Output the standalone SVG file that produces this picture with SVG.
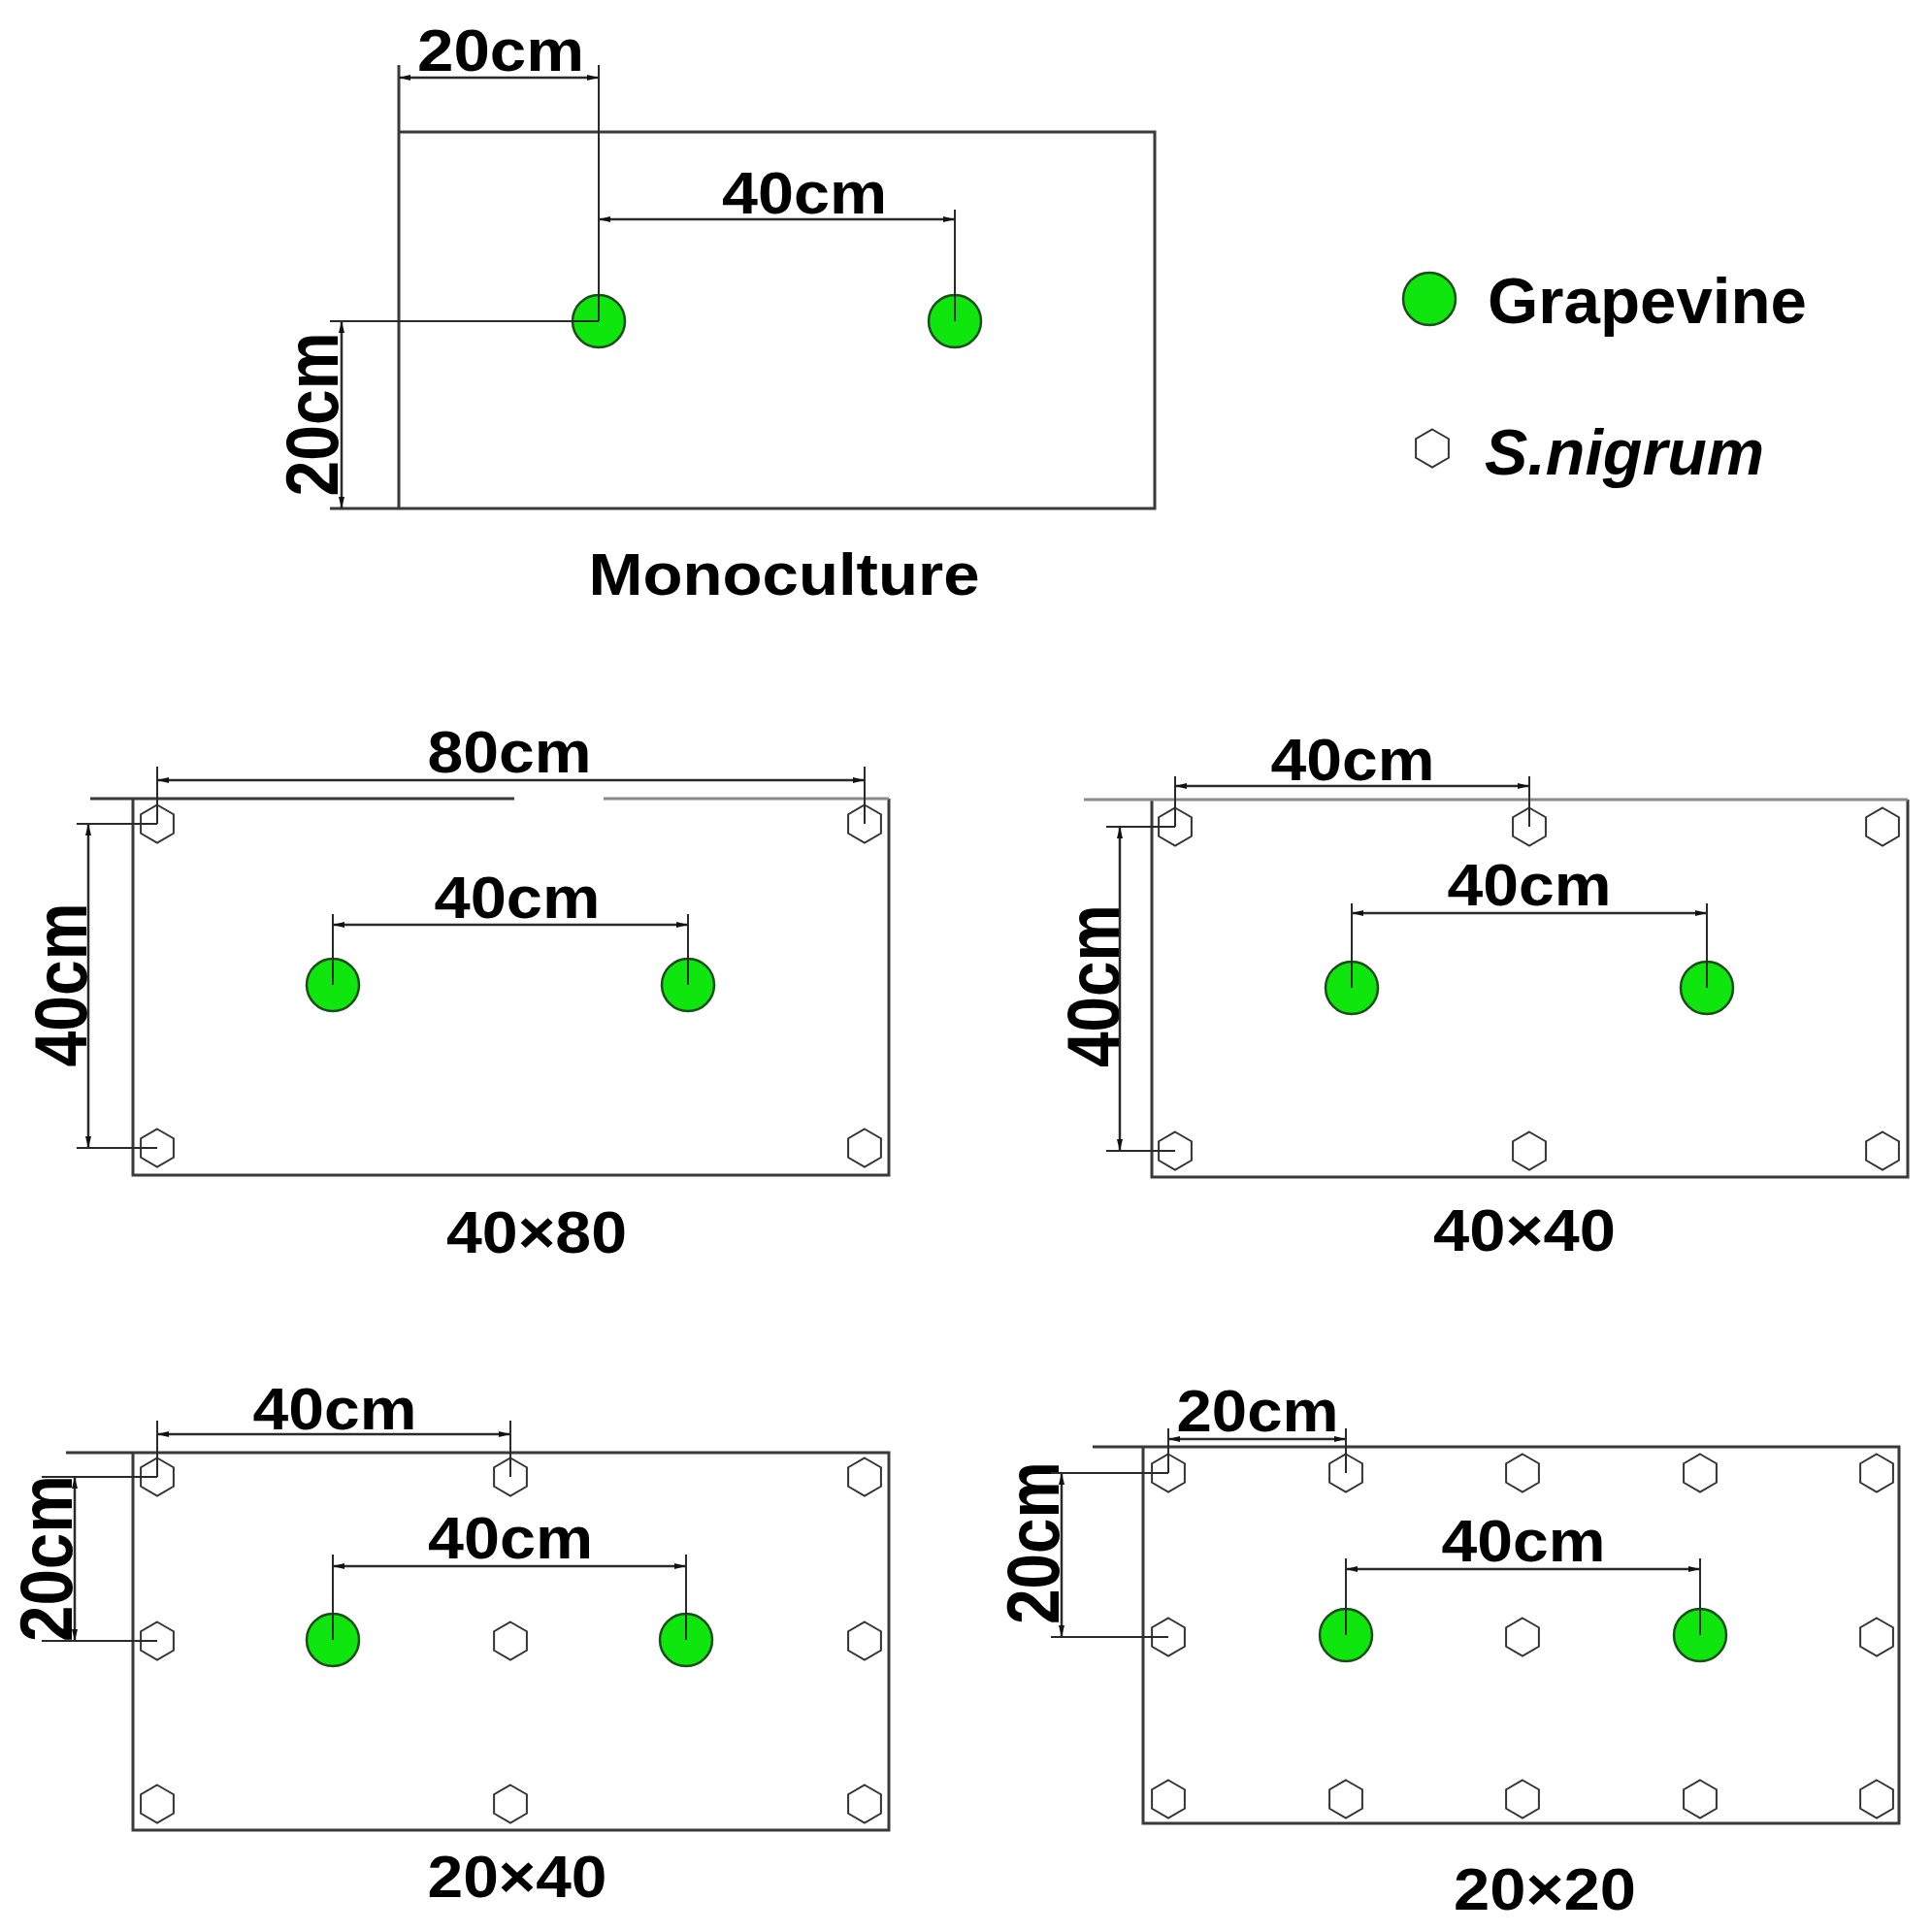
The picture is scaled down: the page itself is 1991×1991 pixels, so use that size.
<svg xmlns="http://www.w3.org/2000/svg" xmlns:xlink="http://www.w3.org/1999/xlink" width="1991" height="1991" viewBox="0 0 1991 1991">
<style>
  .frame { fill: none; stroke: #3a3a3a; stroke-width: 3; }
  .light { fill: none; stroke: #8a8a8a; stroke-width: 3; }
  .ext { stroke: #2a2a2a; stroke-width: 2; fill: none; }
  .dim { stroke: #2a2a2a; stroke-width: 2.5; fill: none; marker-start: url(#arr); marker-end: url(#arr); }
  .lbl { font-family: "Liberation Sans", Arial, sans-serif; font-weight: bold; font-size: 62px; fill: #000; text-anchor: middle; }
  .vlbl { font-family: "Liberation Sans", Arial, sans-serif; font-weight: bold; font-size: 76px; fill: #000; text-anchor: middle; }
  .leg { font-family: "Liberation Sans", Arial, sans-serif; font-weight: bold; font-size: 66px; fill: #000; }
</style>
<defs>
  <marker id="arr" viewBox="0 0 12 6" refX="12" refY="3" markerWidth="12" markerHeight="6" markerUnits="userSpaceOnUse" orient="auto-start-reverse">
    <path d="M0,0 L12,3 L0,6 z" fill="#111"/>
  </marker>
  <circle id="grape" cx="0" cy="0" r="27" fill="#0ee60e" stroke="#1d4d1d" stroke-width="2.5"/>
  <polygon id="hex" points="0,-19.5 16.9,-9.75 16.9,9.75 0,19.5 -16.9,9.75 -16.9,-9.75" fill="#fff" stroke="#333" stroke-width="2"/>
</defs>
<rect width="1991" height="1991" fill="#fff"/>

<!-- ===== Monoculture ===== -->
<g id="panel-mono">
  <path class="frame" d="M411,136 H1190 V524 H340 M411,67 V524"/>
  <g id="mono-g1"><use xlink:href="#grape" x="617" y="331"/></g>
  <g id="mono-g2"><use xlink:href="#grape" x="984" y="331"/></g>
  <text class="lbl" x="516" y="73" textLength="172" lengthAdjust="spacingAndGlyphs">20cm</text>
  <text class="lbl" x="829" y="220" textLength="170" lengthAdjust="spacingAndGlyphs">40cm</text>
  <text class="vlbl" transform="translate(321,427) rotate(-90)" y="27" textLength="169" lengthAdjust="spacingAndGlyphs">20cm</text>
  <text class="lbl" x="808" y="613" textLength="403" lengthAdjust="spacingAndGlyphs">Monoculture</text>
</g>

<!-- ===== Legend ===== -->
<g id="legend">
  <g id="leg-grape"><use xlink:href="#grape" x="1473" y="308"/></g>
  <text class="leg" x="1533" y="333" textLength="329" lengthAdjust="spacingAndGlyphs">Grapevine</text>
  <g id="leg-hex"><use xlink:href="#hex" x="1476" y="462"/></g>
  <text class="leg" x="1530" y="489" font-style="italic" textLength="288" lengthAdjust="spacingAndGlyphs">S.nigrum</text>
</g>

<!-- ===== 40x80 ===== -->
<g id="panel-40x80">
  <path class="frame" d="M916,823 V1211 H137 V823"/>
  <path class="frame" d="M93,823 H530"/>
  <path class="light" d="M622,823 H916"/>
  <g id="p1-h1"><use xlink:href="#hex" x="162" y="849"/></g>
  <g id="p1-h2"><use xlink:href="#hex" x="891" y="849"/></g>
  <g id="p1-h3"><use xlink:href="#hex" x="162" y="1183"/></g>
  <g id="p1-h4"><use xlink:href="#hex" x="891" y="1183"/></g>
  <g id="p1-g1"><use xlink:href="#grape" x="343" y="1015"/></g>
  <g id="p1-g2"><use xlink:href="#grape" x="709" y="1015"/></g>
  <text class="lbl" x="525" y="796" textLength="169" lengthAdjust="spacingAndGlyphs">80cm</text>
  <text class="lbl" x="533" y="946" textLength="171" lengthAdjust="spacingAndGlyphs">40cm</text>
  <text class="vlbl" transform="translate(62,1015) rotate(-90)" y="27" textLength="169" lengthAdjust="spacingAndGlyphs">40cm</text>
  <text class="lbl" x="553" y="1291" textLength="186" lengthAdjust="spacingAndGlyphs">40×80</text>
</g>

<!-- ===== 40x40 ===== -->
<g id="panel-40x40">
  <path class="frame" d="M1966,824 V1213 H1187 V824"/>
  <path class="light" d="M1117,824 H1966"/>
  <g id="p2-h1"><use xlink:href="#hex" x="1211" y="852"/></g>
  <g id="p2-h2"><use xlink:href="#hex" x="1576" y="852"/></g>
  <g id="p2-h3"><use xlink:href="#hex" x="1940" y="852"/></g>
  <g id="p2-h4"><use xlink:href="#hex" x="1211" y="1186"/></g>
  <g id="p2-h5"><use xlink:href="#hex" x="1576" y="1186"/></g>
  <g id="p2-h6"><use xlink:href="#hex" x="1940" y="1186"/></g>
  <g id="p2-g1"><use xlink:href="#grape" x="1393" y="1018"/></g>
  <g id="p2-g2"><use xlink:href="#grape" x="1759" y="1018"/></g>
  <text class="lbl" x="1394" y="804" textLength="169" lengthAdjust="spacingAndGlyphs">40cm</text>
  <text class="lbl" x="1576" y="933" textLength="169" lengthAdjust="spacingAndGlyphs">40cm</text>
  <text class="vlbl" transform="translate(1126,1016) rotate(-90)" y="27" textLength="168" lengthAdjust="spacingAndGlyphs">40cm</text>
  <text class="lbl" x="1571" y="1289" textLength="188" lengthAdjust="spacingAndGlyphs">40×40</text>
</g>

<!-- ===== 20x40 ===== -->
<g id="panel-20x40">
  <path class="frame" d="M68,1497 H916 V1886 H137 V1497"/>
  <g id="p3-h1"><use xlink:href="#hex" x="162" y="1522"/></g>
  <g id="p3-h2"><use xlink:href="#hex" x="526" y="1522"/></g>
  <g id="p3-h3"><use xlink:href="#hex" x="891" y="1522"/></g>
  <g id="p3-h4"><use xlink:href="#hex" x="162" y="1691"/></g>
  <g id="p3-h5"><use xlink:href="#hex" x="526" y="1691"/></g>
  <g id="p3-h6"><use xlink:href="#hex" x="891" y="1691"/></g>
  <g id="p3-h7"><use xlink:href="#hex" x="162" y="1859"/></g>
  <g id="p3-h8"><use xlink:href="#hex" x="526" y="1859"/></g>
  <g id="p3-h9"><use xlink:href="#hex" x="891" y="1859"/></g>
  <g id="p3-g1"><use xlink:href="#grape" x="343" y="1690"/></g>
  <g id="p3-g2"><use xlink:href="#grape" x="707" y="1690"/></g>
  <text class="lbl" x="345" y="1473" textLength="169" lengthAdjust="spacingAndGlyphs">40cm</text>
  <text class="lbl" x="526" y="1606" textLength="170" lengthAdjust="spacingAndGlyphs">40cm</text>
  <text class="vlbl" transform="translate(47,1606) rotate(-90)" y="27" textLength="172" lengthAdjust="spacingAndGlyphs">20cm</text>
  <text class="lbl" x="533" y="1955" textLength="185" lengthAdjust="spacingAndGlyphs">20×40</text>
</g>

<!-- ===== 20x20 ===== -->
<g id="panel-20x20">
  <path class="frame" d="M1126,1491 H1957 V1879 H1178 V1491"/>
  <g id="p4-h1"><use xlink:href="#hex" x="1204" y="1518"/></g>
  <g id="p4-h2"><use xlink:href="#hex" x="1387" y="1518"/></g>
  <g id="p4-h3"><use xlink:href="#hex" x="1569" y="1518"/></g>
  <g id="p4-h4"><use xlink:href="#hex" x="1752" y="1518"/></g>
  <g id="p4-h5"><use xlink:href="#hex" x="1934" y="1518"/></g>
  <g id="p4-h6"><use xlink:href="#hex" x="1204" y="1687"/></g>
  <g id="p4-h7"><use xlink:href="#hex" x="1569" y="1687"/></g>
  <g id="p4-h8"><use xlink:href="#hex" x="1934" y="1687"/></g>
  <g id="p4-h9"><use xlink:href="#hex" x="1204" y="1854"/></g>
  <g id="p4-h10"><use xlink:href="#hex" x="1387" y="1854"/></g>
  <g id="p4-h11"><use xlink:href="#hex" x="1569" y="1854"/></g>
  <g id="p4-h12"><use xlink:href="#hex" x="1752" y="1854"/></g>
  <g id="p4-h13"><use xlink:href="#hex" x="1934" y="1854"/></g>
  <g id="p4-g1"><use xlink:href="#grape" x="1387" y="1685"/></g>
  <g id="p4-g2"><use xlink:href="#grape" x="1752" y="1685"/></g>
  <text class="lbl" x="1296" y="1475" textLength="167" lengthAdjust="spacingAndGlyphs">20cm</text>
  <text class="lbl" x="1570" y="1609" textLength="169" lengthAdjust="spacingAndGlyphs">40cm</text>
  <text class="vlbl" transform="translate(1064,1590) rotate(-90)" y="27" textLength="168" lengthAdjust="spacingAndGlyphs">20cm</text>
  <text class="lbl" x="1592" y="1968" textLength="188" lengthAdjust="spacingAndGlyphs">20×20</text>
</g>

<!-- ===== Connectors (dimension and extension lines) ===== -->
<g id="connectors">
  <!-- Monoculture -->
  <line class="ext" x1="617" y1="67" x2="617" y2="331"/>
  <line class="dim" x1="411" y1="80" x2="617" y2="80"/>
  <line class="ext" x1="984" y1="216" x2="984" y2="331"/>
  <line class="dim" x1="617" y1="226" x2="984" y2="226"/>
  <line class="ext" x1="340" y1="331" x2="617" y2="331"/>
  <line class="dim" x1="352" y1="331" x2="352" y2="524"/>
  <!-- 40x80 -->
  <line class="ext" x1="162" y1="790" x2="162" y2="849"/>
  <line class="ext" x1="891" y1="790" x2="891" y2="849"/>
  <line class="dim" x1="162" y1="804" x2="891" y2="804"/>
  <line class="ext" x1="343" y1="942" x2="343" y2="1015"/>
  <line class="ext" x1="709" y1="942" x2="709" y2="1015"/>
  <line class="dim" x1="343" y1="953" x2="709" y2="953"/>
  <line class="ext" x1="79" y1="849" x2="162" y2="849"/>
  <line class="ext" x1="79" y1="1183" x2="162" y2="1183"/>
  <line class="dim" x1="91" y1="849" x2="91" y2="1183"/>
  <!-- 40x40 -->
  <line class="ext" x1="1211" y1="800" x2="1211" y2="852"/>
  <line class="ext" x1="1576" y1="800" x2="1576" y2="852"/>
  <line class="dim" x1="1211" y1="810" x2="1576" y2="810"/>
  <line class="ext" x1="1393" y1="931" x2="1393" y2="1018"/>
  <line class="ext" x1="1759" y1="931" x2="1759" y2="1018"/>
  <line class="dim" x1="1393" y1="941" x2="1759" y2="941"/>
  <line class="ext" x1="1140" y1="852" x2="1211" y2="852"/>
  <line class="ext" x1="1140" y1="1186" x2="1211" y2="1186"/>
  <line class="dim" x1="1154" y1="852" x2="1154" y2="1186"/>
  <!-- 20x40 -->
  <line class="ext" x1="162" y1="1464" x2="162" y2="1522"/>
  <line class="ext" x1="526" y1="1464" x2="526" y2="1522"/>
  <line class="dim" x1="162" y1="1478" x2="526" y2="1478"/>
  <line class="ext" x1="343" y1="1602" x2="343" y2="1690"/>
  <line class="ext" x1="707" y1="1602" x2="707" y2="1690"/>
  <line class="dim" x1="343" y1="1614" x2="707" y2="1614"/>
  <line class="ext" x1="43" y1="1522" x2="162" y2="1522"/>
  <line class="ext" x1="43" y1="1691" x2="162" y2="1691"/>
  <line class="dim" x1="77" y1="1522" x2="77" y2="1691"/>
  <!-- 20x20 -->
  <line class="ext" x1="1204" y1="1472" x2="1204" y2="1518"/>
  <line class="ext" x1="1387" y1="1472" x2="1387" y2="1518"/>
  <line class="dim" x1="1204" y1="1483" x2="1387" y2="1483"/>
  <line class="ext" x1="1387" y1="1606" x2="1387" y2="1685"/>
  <line class="ext" x1="1752" y1="1606" x2="1752" y2="1685"/>
  <line class="dim" x1="1387" y1="1617" x2="1752" y2="1617"/>
  <line class="ext" x1="1083" y1="1518" x2="1204" y2="1518"/>
  <line class="ext" x1="1083" y1="1687" x2="1204" y2="1687"/>
  <line class="dim" x1="1094" y1="1518" x2="1094" y2="1687"/>
</g>
</svg>
